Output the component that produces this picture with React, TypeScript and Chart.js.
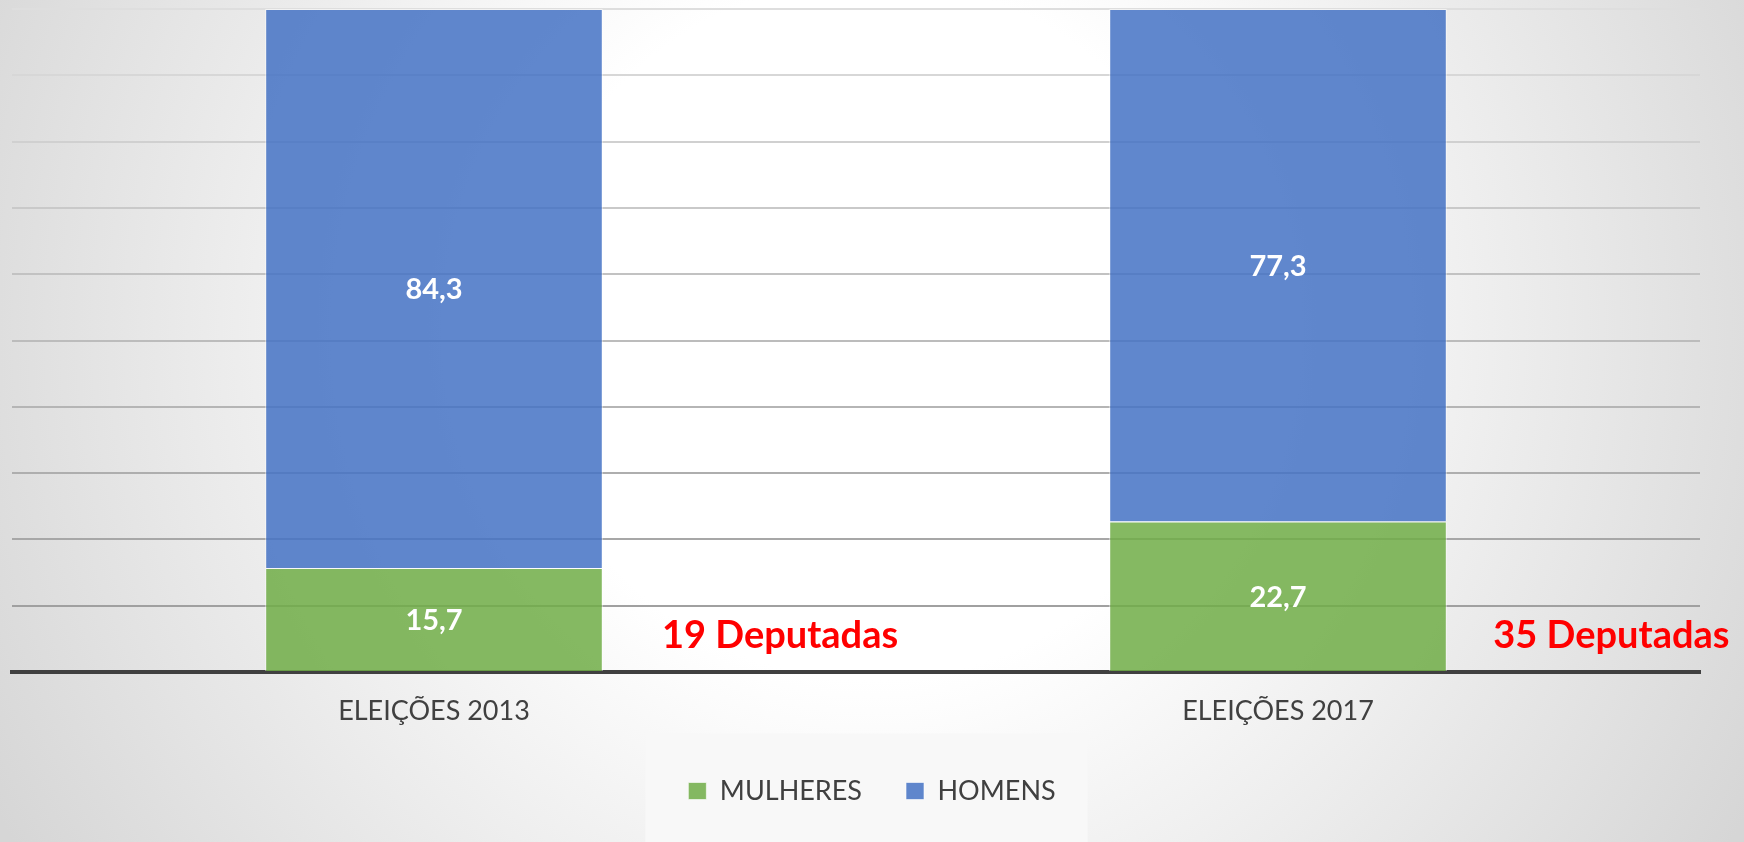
import React, { useEffect, useRef } from "react";
import { Chart, registerables } from "chart.js";

Chart.register(...registerables);

const categories = ["ELEIÇÕES 2013", "ELEIÇÕES 2017"];
const mulheres = [15.7, 22.7];
const homens = [84.3, 77.3];
const deputadasLabels = ["19 Deputadas", "35 Deputadas"];
const seriesNames = ["MULHERES", "HOMENS"];

const ANNOT_X_OFFSETS = [0.41, 0.395];
const ANNOT_Y_VALUE = 5.4;
const LEGEND_SHIFT = 16;
const FONT = "Lato, 'Open Sans', sans-serif";

const bgPlugin = {
  id: "bgPlugin",
  afterLayout(chart: any) {
    const legend = chart.legend;
    if (legend) {
      legend.left += LEGEND_SHIFT;
      legend.right += LEGEND_SHIFT;
    }
  },
  beforeDraw(chart: any) {
    const { ctx, width, height } = chart;
    ctx.save();
    const g = ctx.createRadialGradient(872, 330, 0, 872, 330, 1000);
    g.addColorStop(0, "#ffffff");
    g.addColorStop(0.35, "#ffffff");
    g.addColorStop(1, "#d6d6d6");
    ctx.fillStyle = g;
    ctx.fillRect(0, 0, width, height);
    const legend = chart.legend;
    if (legend && legend.legendHitBoxes && legend.legendHitBoxes.length) {
      const hb = legend.legendHitBoxes;
      const last = hb[hb.length - 1];
      const left = hb[0].left - 43;
      const right = last.left + last.width + 32;
      ctx.fillStyle = "#f8f8f8";
      ctx.fillRect(left, legend.top, right - left, height - legend.top);
    }
    ctx.restore();
  },
};

const valueLabelPlugin = {
  id: "valueLabelPlugin",
  afterDatasetsDraw(chart: any) {
    const { ctx } = chart;
    ctx.save();
    ctx.font = `bold 29px ${FONT}`;
    ctx.fillStyle = "#ffffff";
    ctx.textAlign = "center";
    ctx.textBaseline = "middle";
    chart.data.datasets.forEach((ds: any, i: number) => {
      const meta = chart.getDatasetMeta(i);
      meta.data.forEach((bar: any, j: number) => {
        const { x, y, base } = bar.getProps(["x", "y", "base"], true);
        const txt = Number(ds.data[j]).toFixed(1).replace(".", ",");
        ctx.fillText(txt, x, (y + base) / 2 + 1);
      });
    });
    ctx.restore();
  },
};

const annotPlugin = {
  id: "annotPlugin",
  afterDraw(chart: any) {
    const { ctx } = chart;
    const xs = chart.scales.x;
    const ys = chart.scales.y;
    ctx.save();
    ctx.font = `bold 38px ${FONT}`;
    ctx.fillStyle = "#ff0000";
    ctx.textAlign = "center";
    ctx.textBaseline = "middle";
    deputadasLabels.forEach((t, i) => {
      const x = xs.getPixelForValue(i + ANNOT_X_OFFSETS[i]);
      const y = ys.getPixelForValue(ANNOT_Y_VALUE);
      ctx.fillText(t, x, y);
    });
    ctx.restore();
  },
};

export default function App() {
  const ref = useRef<HTMLCanvasElement | null>(null);
  useEffect(() => {
    if (!ref.current) return;
    const chart = new Chart(ref.current, {
      type: "bar",
      data: {
        labels: categories,
        datasets: [
          {
            label: seriesNames[0],
            data: mulheres,
            backgroundColor: "rgba(112,173,71,0.85)",
            borderColor: "rgba(255,255,255,0.6)",
            borderWidth: 1,
            barPercentage: 0.4,
            categoryPercentage: 1.0,
          },
          {
            label: seriesNames[1],
            data: homens,
            backgroundColor: "rgba(68,114,196,0.85)",
            borderColor: "rgba(255,255,255,0.6)",
            borderWidth: 1,
            barPercentage: 0.4,
            categoryPercentage: 1.0,
          },
        ],
      },
      options: {
        animation: false,
        responsive: true,
        maintainAspectRatio: false,
        layout: { padding: { top: 9, left: 12, right: 44, bottom: 27.5 } },
        scales: {
          x: {
            stacked: true,
            z: 1,
            grid: { display: false, drawTicks: false },
            border: { display: true, color: "#404040", width: 4 },
            ticks: {
              color: "#404040",
              font: { family: FONT, size: 27 },
              padding: 23,
            },
            afterFit: (scale: any) => {
              scale.height = 61.5;
            },
          },
          y: {
            stacked: true,
            min: 0,
            max: 100,
            ticks: { display: false, stepSize: 10 },
            border: { display: false },
            grid: {
              drawTicks: false,
              lineWidth: 2,
              color: (c: any) => {
                const v = c.tick ? c.tick.value : 50;
                const g = Math.round(160 + ((v - 10) * 62) / 90);
                return `rgb(${g},${g},${g})`;
              },
            },
          },
        },
        plugins: {
          legend: {
            position: "bottom",
            labels: {
              boxWidth: 18,
              boxHeight: 17,
              padding: 44,
              color: "#404040",
              font: { family: FONT, size: 27 },
            },
          },
          tooltip: { enabled: false },
        },
      },
      plugins: [bgPlugin, valueLabelPlugin, annotPlugin],
    });
    return () => chart.destroy();
  }, []);
  return (
    <div style={{ position: "fixed", left: 0, top: 0, width: 1744, height: 842 }}>
      <canvas ref={ref} />
    </div>
  );
}
